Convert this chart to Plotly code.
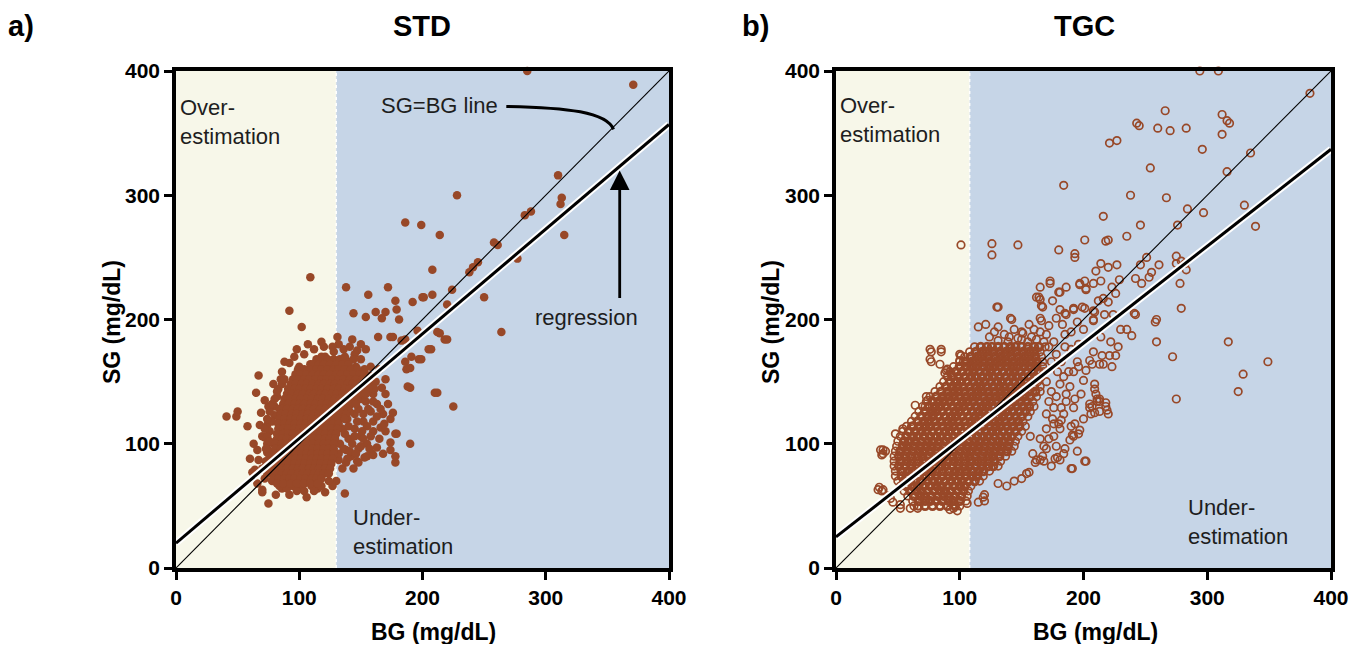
import plotly.graph_objects as go

# ---------------- data (BG, SG in mg/dL) ----------------
std_sparse = [
    (285,400),(371,389),(310,316),(313,298),(312,293),(315,268),(228,300),(186,278),(199,276),(214,268),
    (283,284),(288,287),(258,262),(261,260),(277,249),(245,246),(241,242),(238,238),(208,240),(172,226),
    (208,220),(224,224),(250,218),(200,218),(264,190),(225,130),(109,234),(92,207),(102,194),(107,180),
    (138,226),(156,220),(144,205),(154,202),(162,206),(170,206),(178,215),(179,208),(181,200),(167,201),
    (192,214),(201,218),(220,212),(218,184),(212,190),(205,176),(197,168),(191,170),(186,166),(187,160),
    (188,146),(210,141),(190,100),(178,108),(174,120),(168,124),(170,140),(160,148),(143,184),(131,186),
    (147,175),(154,176),(164,186),(174,186),(183,183),(168,92),(178,85),(159,92),(155,90),(147,86),
    (144,80),(137,60),(135,80),(132,87),(121,61),(106,57),(92,59),(75,52),(70,61),(66,68),
    (62,77),(67,87),(58,114),(68,115),(74,115),(41,122),(49,122),(50,126),(65,141),(67,155),
    (83,144),(88,166),(100,162),(109,164),(118,170),(121,170),(80,123),(79,100),(74,100),
    (196,191),(207,176),(214,189),(220,184),(199,168),(190,161),(190,145),(212,141),(179,108),
    (174,101),(174,95),(178,90),(160,91),(153,89),(148,85),(81,59),(70,63),(64,79),(74,93),
    (176,186),(186,184),
]
std_mid = [
    (160,140),(163,132),(158,126),(152,118),(160,118),(166,113),(145,112),(150,106),(140,104),(155,100),
    (148,96),(138,95),(142,90),(165,104),(170,110),(156,128),(162,150),(158,162),(150,168),(145,172),
    (136,176),(128,174),(153,160),(167,145),(172,132),(176,125),(160,110),(145,124),(135,112),(133,100),
    (138,85),(130,70),(127,66),(115,64),(110,66),(100,64),(95,66),(86,64),(72,72),(70,80),
    (73,86),(75,95),(72,105),(76,110),(78,118),(80,130),(82,138),(79,148),(85,152),(86,158),
    (92,165),(96,170),(104,172),(98,176),(112,176),(120,178),(63,100),(66,95),(69,125),
    (75,130),(72,135),(60,88),(157,155),(165,160),(170,152),(150,180),(141,178),(132,180),(169,116),(163,97),
    (134,160),(140,156),(146,150),(138,146),(144,140),(150,136),(142,132),(148,128),(154,134),(156,142),
    (161,144),(149,146),(139,120),(147,118),(155,114),(140,114),(137,108),(145,106),(151,110),(158,106),
    (143,100),(150,98),(157,96),(136,96),(141,94),(132,92),(139,88),(146,92),(152,104),(163,122),
    (166,128),(160,134),(152,124),(135,125),(136,132),(141,126),(133,140),(128,150),(130,158),(125,164),
    (133,167),(140,166),(146,162),(152,150),(144,168),(127,178),(118,182),(137,170),
    (74,120),(76,126),(78,132),(80,136),(82,142),(86,148),(88,152),(84,128),(72,112),(70,106),
    (74,106),(76,102),(73,96),(76,90),(73,82),(74,76),(78,70),(84,66),(90,64),(98,62),
    (104,62),(112,62),(118,66),(124,70),
]
std_core_rows = [
    (168, [114,119,123,128,133,137]),
    (164, [111,116,120,125,130,135,140]),
    (160, [99,104,109,114,118,123,128,132,137,142,147]),
    (156, [97,101,106,111,116,120,125,130,134,139,144,149,153]),
    (152, [95,99,104,108,113,118,122,127,132,136,141,146,151]),
    (148, [93,97,102,106,111,116,120,125,129,134,139,143,148,154]),
    (144, [91,96,100,105,109,114,118,123,128,132,137,141,146,151,156]),
    (140, [90,94,99,103,108,112,117,121,126,130,135,140,144,149,154]),
    (136, [88,92,97,101,106,110,115,119,124,129,133,138,142,147]),
    (132, [87,91,96,100,104,109,113,118,122,127,131,136,141,146]),
    (128, [86,90,95,99,103,108,112,117,121,126,130,135,139]),
    (124, [85,89,94,98,103,107,112,116,120,125,129,134,138]),
    (120, [84,88,93,97,101,106,110,115,119,124,128,132,137]),
    (116, [83,88,92,96,101,105,110,114,118,123,127,132]),
    (112, [83,87,91,96,100,104,109,113,118,122,126,131]),
    (108, [82,87,91,95,100,104,108,113,117,121,126,130]),
    (104, [82,86,90,95,99,103,108,112,116,121,125,129]),
    (100, [81,86,90,94,98,103,107,111,116,120,124,128]),
    (96,  [81,85,89,94,98,102,107,111,115,120,124,128]),
    (92,  [80,84,89,93,97,102,106,110,115,119,123,128]),
    (88,  [79,84,88,92,97,101,105,110,114,118,123,127]),
    (84,  [78,83,87,91,96,100,104,109,113,117,122,126]),
    (80,  [77,82,86,90,95,99,103,108,112,116,121,125]),
    (76,  [77,81,86,90,94,99,103,107,112,116,120,124]),
    (72,  [79,83,88,92,96,101,105,110,114,118]),
    (68,  [82,87,93,98,104,109,115]),
]

tgc_sparse = [
    (294,400),(309,400),(383,382),(266,368),(243,358),(245,356),(260,354),(270,352),(283,354),(312,365),
    (316,360),(318,358),(312,349),(221,342),(227,344),(296,337),(335,334),(254,322),(316,319),(184,308),
    (238,300),(267,298),(330,292),(284,289),(297,286),(276,276),(216,283),(246,276),(339,275),(235,267),
    (218,263),(220,264),(201,264),(180,256),(193,253),(193,250),(101,260),(126,261),(126,252),(147,260),
    (251,250),(275,251),(261,244),(246,244),(227,244),(220,242),(214,245),(210,239),(229,232),(223,226),
    (226,221),(220,214),(216,217),(212,215),(214,231),(201,231),(202,224),(197,229),(186,226),(180,222),
    (173,231),(165,226),(164,218),(165,216),(175,215),(167,210),(130,210),(131,210),(141,201),(165,201),
    (181,208),(185,205),(192,209),(201,209),(242,233),(247,229),(253,234),(255,238),(241,205),(278,229),
    (279,209),(283,240),(279,247),(282,245),(275,245),(259,200),(258,198),(259,182),(272,170),(317,182),
    (349,166),(329,156),(325,142),(275,136),(242,204),(239,187),(230,192),(235,192),(217,204),(224,204),
    (209,206),(208,200),(214,186),(222,182),(228,178),(215,171),(221,171),(226,171),(216,164),(223,162),
    (207,164),(209,144),(213,136),(211,134),(218,130),(207,130),(213,126),(220,124),(206,124),
    (202,86),(191,80),(179,89),(181,87),(156,77),(95,48),(98,46),(120,54),(119,57),(35,65),(38,63),
    (38,95),(40,94),(37,91),(44,56),(42,58),(63,50),(67,50),(52,51),(64,131),(74,135),(77,174),(85,174),
    (77,166),(84,164),(89,159),(93,157),(101,171),(103,166),(193,116),(191,107),(197,111),(209,148),
    (210,140),(205,132),(213,134),(218,133),(219,127),(180,116),(182,119),(168,98),(162,87),(165,87),(167,90),
]
tgc_fringe = [
    (173,229),(197,228),(202,225),(208,229),(162,218),(166,211),(181,222),
    (142,200),(115,194),(121,196),(131,194),(156,196),(166,199),(178,201),(186,204),(192,208),
    (199,210),(208,207),(208,199),(76,176),(85,176),(76,168),(90,160),(88,157),(100,172),(100,167),
    (106,166),(73,138),(72,130),(79,124),(48,108),(54,112),(61,114),(36,95),(38,92),
    (34,63),(37,62),(46,53),(52,48),(60,48),(66,48),(92,47),(106,52),(115,53),(120,59),(131,68),
    (154,76),(161,85),(177,88),(190,80),(201,86),(159,92),(157,106),(165,104),(176,116),
    (181,112),(190,114),(196,108),(192,106),(189,103),(176,129),(182,129),(193,136),(192,129),(205,129),
    (209,125),(211,136),(213,164),(192,158),(196,162),(200,151),(189,146),(181,148),
    (184,154),(205,167),(202,159),(208,174),(195,166),(188,158),
    (150,190),(160,192),(172,195),(183,196),(195,198),(140,186),(150,184),(185,188),(176,182),(190,190),
    (200,192),(170,188),
    (170,150),(174,142),(172,134),(178,138),(170,124),(175,120),(170,112),(172,104),(178,98),(185,96),
    (170,96),(176,106),(184,124),(186,134),(179,158),(174,166),(178,172),(185,178),(172,178),(190,176),
    (196,180),(182,166),(186,140),(198,140),(200,120),(168,86),(174,82),(184,92),(195,94),(150,72),
    (144,70),(138,66),
    (128,190),(136,188),(144,192),(151,189),(158,186),(165,190),(124,186),(131,183),(139,182),(147,185),
    (155,182),(162,184),(168,182),
]
tgc_core_rows = [
    (178, [112,117,122,126,131,136,141,145,150,155,160,164,169]),
    (174, [108,113,118,122,127,132,137,141,146,151,156,160,165]),
    (170, [104,109,114,118,123,128,133,137,142,147,152,156,161,166]),
    (166, [100,105,110,114,119,124,129,133,138,143,148,152,157,162,167]),
    (162, [95,100,105,110,114,119,124,128,133,138,143,147,152,157,162,167]),
    (158, [92,97,102,107,111,116,121,125,130,135,140,144,149,154,159,164,168]),
    (154, [90,94,99,104,109,113,118,123,127,132,137,142,146,151,156,161,166]),
    (150, [87,92,97,101,106,111,116,120,125,130,134,139,144,149,153,158,163]),
    (146, [84,89,94,98,103,108,113,117,122,127,132,136,141,146,151,155,160,165]),
    (142, [80,85,90,95,99,104,109,114,118,123,128,133,137,142,147,152,156,161,165]),
    (138, [76,81,86,91,95,100,105,110,114,119,124,129,133,138,143,148,152,157,162]),
    (134, [73,78,83,87,92,97,102,106,111,116,121,125,130,135,140,144,149,154,159]),
    (130, [70,75,80,84,89,94,99,103,108,113,118,122,127,132,137,141,146,151,156,160]),
    (126, [67,72,77,81,86,91,96,100,105,110,115,119,124,129,134,138,143,148,153,157]),
    (122, [64,69,74,78,83,88,93,97,102,107,112,116,121,126,131,135,140,145,150,155]),
    (118, [61,66,71,75,80,85,90,94,99,104,109,113,118,123,128,132,137,142,147,151]),
    (114, [57,62,67,72,76,81,86,91,95,100,105,110,114,119,124,129,133,138,143,148,153]),
    (110, [54,59,64,69,73,78,83,88,92,97,102,107,111,116,121,126,130,135,140,145,150]),
    (106, [52,57,62,66,71,76,81,85,90,95,100,104,109,114,119,123,128,133,138,142,147]),
    (102, [50,55,59,64,69,74,78,83,88,93,97,102,107,112,116,121,126,131,135,140,145]),
    (98,  [49,54,58,63,68,73,77,82,87,92,96,101,106,111,115,120,125,130,134,139,144]),
    (94,  [48,52,57,62,67,71,76,81,86,90,95,100,105,109,114,119,124,128,133,138,142]),
    (90,  [47,51,56,61,66,70,75,80,85,89,94,99,104,108,113,118,123,127,132,137]),
    (86,  [47,52,57,61,66,71,76,80,85,90,95,99,104,109,114,118,123,128,133]),
    (82,  [47,51,56,61,66,70,75,80,85,89,94,99,104,108,113,118,123,127,131]),
    (78,  [48,53,58,62,67,72,77,81,86,91,96,100,105,110,115,119,124]),
    (74,  [48,53,57,62,67,72,76,81,86,91,95,100,105,110,114,119]),
    (70,  [50,55,60,64,69,74,79,83,88,93,98,102,107,112,116]),
    (66,  [52,57,62,66,71,76,81,85,90,95,100,104,109]),
    (62,  [55,60,65,69,74,79,84,88,93,98,103,107]),
    (58,  [58,63,68,72,77,82,87,91,96,101,106]),
    (54,  [62,67,72,76,81,86,91,95,100,105]),
    (50,  [66,72,78,84,90,96,100]),
]

std_reg = {"intercept": 20.0, "slope": 0.8425}
tgc_reg = {"intercept": 25.0, "slope": 0.78}
std_cut = 130   # BG boundary between over / under-estimation shading
tgc_cut = 108
axis_range = [0, 400]
tick_vals = [0, 100, 200, 300, 400]

# ---------------- figure geometry (page pixels; page has an 8px body margin) ----------------
OFF = 8
FW, FH = 1372 - 2 * OFF, 652 - 2 * OFF
px = lambda X: (X - OFF) / FW          # page x pixel -> paper x
py = lambda Y: 1 - (Y - OFF) / FH      # page y pixel -> paper y


def expand(point_lists, rows, edges=None):
    xs, ys = [], []
    for pts in point_lists:
        for bx, sy in pts:
            xs.append(bx)
            ys.append(sy)
    for sy, bgs in rows:
        sel = bgs if edges is None else ([bgs[0], bgs[-1]] if edges else bgs[1:-1])
        for bx in sel:
            xs.append(bx)
            ys.append(sy)
    return xs, ys


std_x, std_y = expand([std_sparse, std_mid], std_core_rows)
tgc_sx, tgc_sy = expand([tgc_sparse, tgc_fringe], tgc_core_rows, edges=True)
tgc_cx, tgc_cy = expand([], tgc_core_rows, edges=False)

BROWN = "#984828"
CREAM = "#F7F7E9"
BLUE = "#C6D5E7"
FONT = "Liberation Sans, Arial, sans-serif"

fig = go.Figure()

fig.add_trace(go.Scatter(x=std_x, y=std_y, mode="markers", xaxis="x", yaxis="y",
                         marker=dict(size=8.5, color=BROWN, line=dict(width=0)),
                         cliponaxis=False, showlegend=False, hoverinfo="skip"))
fig.add_trace(go.Scatter(x=tgc_cx, y=tgc_cy, mode="markers", xaxis="x2", yaxis="y2",
                         marker=dict(size=7.5, symbol="circle-open", color=BROWN,
                                     line=dict(width=2.8, color=BROWN)),
                         cliponaxis=False, showlegend=False, hoverinfo="skip"))
fig.add_trace(go.Scatter(x=tgc_sx, y=tgc_sy, mode="markers", xaxis="x2", yaxis="y2",
                         marker=dict(size=7.5, symbol="circle-open", color=BROWN,
                                     line=dict(width=1.7, color=BROWN)),
                         cliponaxis=False, showlegend=False, hoverinfo="skip"))

for xa, ya, reg in (("x", "y", std_reg), ("x2", "y2", tgc_reg)):
    lx = axis_range
    fig.add_trace(go.Scatter(x=lx, y=lx, mode="lines", xaxis=xa, yaxis=ya,
                             line=dict(color="black", width=1.1), showlegend=False, hoverinfo="skip"))
    ry = [reg["intercept"] + reg["slope"] * v for v in lx]
    fig.add_trace(go.Scatter(x=lx, y=ry, mode="lines", xaxis=xa, yaxis=ya,
                             line=dict(color="white", width=7), showlegend=False, hoverinfo="skip"))
    fig.add_trace(go.Scatter(x=lx, y=ry, mode="lines", xaxis=xa, yaxis=ya,
                             line=dict(color="black", width=3), showlegend=False, hoverinfo="skip"))

shapes = []
for xa, ya, cut in (("x", "y", std_cut), ("x2", "y2", tgc_cut)):
    shapes.append(dict(type="rect", xref=xa, yref=ya, x0=0, x1=cut, y0=0, y1=400,
                       fillcolor=CREAM, line=dict(width=0), layer="below"))
    shapes.append(dict(type="rect", xref=xa, yref=ya, x0=cut, x1=400, y0=0, y1=400,
                       fillcolor=BLUE, line=dict(width=0), layer="below"))
    shapes.append(dict(type="line", xref=xa, yref=ya, x0=cut, x1=cut, y0=0, y1=400,
                       line=dict(color="white", width=1.5, dash="dot"), layer="below"))
shapes.append(dict(type="path", xref="x", yref="y",
                   path="M 268,371.5 C 318,370.5 349,367 355,353",
                   line=dict(color="black", width=3)))

ax_common = dict(range=axis_range, tickvals=tick_vals, ticks="outside", ticklen=8,
                 tickwidth=3, tickcolor="black", showline=True, linewidth=3.5,
                 linecolor="black", mirror=True, showgrid=False, zeroline=False,
                 fixedrange=True, automargin=False,
                 tickfont=dict(family=FONT, size=21, color="black", weight="bold"))

ydom = [py(568), py(71)]
fig.update_layout(
    width=FW, height=FH, margin=dict(l=0, r=0, t=0, b=0, pad=0, autoexpand=False),
    paper_bgcolor="white", plot_bgcolor="white",
    xaxis=dict(domain=[px(176), px(669)], anchor="y", **ax_common),
    yaxis=dict(domain=ydom, anchor="x", **ax_common),
    xaxis2=dict(domain=[px(836), px(1331)], anchor="y2", **ax_common),
    yaxis2=dict(domain=ydom, anchor="x2", **ax_common),
    shapes=shapes,
)

ann_font = dict(family=FONT, size=22, color="#1e1e1e")
bold = lambda s: dict(family=FONT, size=s, color="black", weight="bold")


def paper_text(text, X, Y, size, xanchor="center", angle=0):
    return dict(text=text, x=px(X), y=py(Y), xref="paper", yref="paper", xanchor=xanchor,
                yanchor="middle", textangle=angle, showarrow=False, font=bold(size))


def top_text(text, X, size, xanchor="center"):
    return dict(text=text, x=px(X), y=1, xref="paper", yref="paper", xanchor=xanchor,
                yanchor="top", showarrow=False, font=bold(size))


annotations = [
    top_text("a)", 6, 29, "left"),
    top_text("b)", 740, 29, "left"),
    top_text("STD", 422, 29),
    top_text("TGC", 1084, 29),
    paper_text("BG (mg/dL)", 433, 632, 23),
    paper_text("BG (mg/dL)", 1095, 632, 23),
    paper_text("SG (mg/dL)", 112, 322, 23, angle=-90),
    paper_text("SG (mg/dL)", 771, 322, 23, angle=-90),
    dict(text="Over-<br>estimation", x=2, y=382, xref="x", yref="y", xanchor="left",
         yanchor="top", align="left", showarrow=False, font=ann_font),
    dict(text="Under-<br>estimation", x=142, y=52, xref="x", yref="y", xanchor="left",
         yanchor="top", align="left", showarrow=False, font=ann_font),
    dict(text="Over-<br>estimation", x=2, y=384, xref="x2", yref="y2", xanchor="left",
         yanchor="top", align="left", showarrow=False, font=ann_font),
    dict(text="Under-<br>estimation", x=283, y=60, xref="x2", yref="y2", xanchor="left",
         yanchor="top", align="left", showarrow=False, font=ann_font),
    dict(text="SG=BG line", x=263, y=372, xref="x", yref="y", xanchor="right",
         yanchor="middle", showarrow=False, font=ann_font),
    dict(text="regression", x=333, y=202, xref="x", yref="y", xanchor="center",
         yanchor="middle", showarrow=False, font=ann_font),
    dict(text="", x=360, y=320, ax=360, ay=216, xref="x", yref="y", axref="x", ayref="y",
         showarrow=True, arrowhead=2, arrowsize=1.4, arrowwidth=2.8, arrowcolor="black"),
]
fig.update_layout(annotations=annotations)

fig.write_html("out.html")
